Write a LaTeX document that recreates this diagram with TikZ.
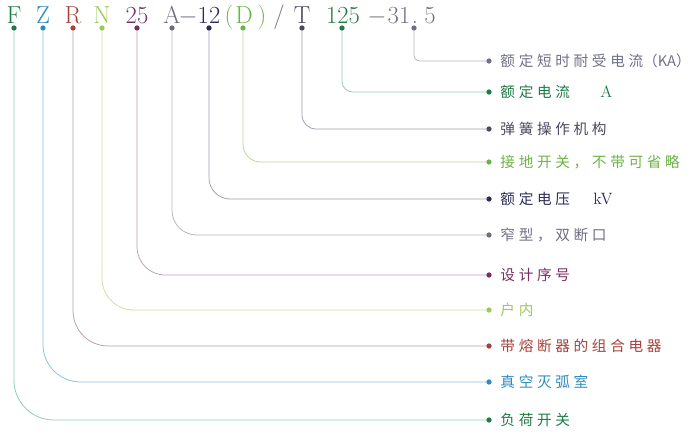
\documentclass[tikz,border=0pt]{standalone}
\usepackage{fontspec}
\newfontfamily\cjk[LetterSpace=25]{Noto Sans CJK SC}
\newfontfamily\cjktight{Noto Sans CJK SC}
\usetikzlibrary{positioning}
\definecolor{cF}{HTML}{1F7A48}
\definecolor{cZ}{HTML}{2D8BBF}
\definecolor{cR}{HTML}{A5413A}
\definecolor{cN}{HTML}{9CC95A}
\definecolor{cNum}{HTML}{7A2D62}
\definecolor{cA}{HTML}{6E6E80}
\definecolor{cKV}{HTML}{2B2A5C}
\definecolor{cD}{HTML}{6CB446}
\definecolor{cT}{HTML}{4A4A5E}
\definecolor{cKA}{HTML}{707088}
% lighter tints for the leader lines
\definecolor{lF}{HTML}{8FCBB4}
\definecolor{lZ}{HTML}{8CC0DA}
\definecolor{lR}{HTML}{BF9CA6}
\definecolor{lN}{HTML}{CCE09C}
\definecolor{lNum}{HTML}{C09CBC}
\definecolor{lA}{HTML}{B4B4C2}
\definecolor{lKV}{HTML}{9C9CB8}
\definecolor{lD}{HTML}{B4D69A}
\definecolor{lT}{HTML}{9C9CAE}
\tikzset{
	code/.style   ={anchor=base, inner sep=0pt, font=\fontsize{21}{21}\selectfont},
	tick/.style   ={circle, inner sep=0pt, minimum size=4.5pt},
	lead/.style   ={line width=0.65pt},
	meaning/.style={anchor=west, inner sep=0pt, font=\cjk\fontsize{12.5}{14}\selectfont},
}
\begin{document}
\begin{tikzpicture}[x=0.03cm, y=-0.03cm]
	\useasboundingbox (0,0) rectangle (700,444);
	% the type code
	\node[code, text=cF]   (tF)     at (14,23)  {F};
	\node[code, text=cZ]   (tZ)     at (43,23)  {Z};
	\node[code, text=cR]   (tR)     at (73,23)  {R};
	\node[code, text=cN]   (tN)     at (102,23) {N};
	\node[code, text=cNum] (t25)    at (137,23) {25};
	\node[code, text=cA]   (tA)     at (172,23) {A};
	\node[code, text=cA]   (tdashA) at (188,23) {$-$};
	\node[code, text=cKV]  (t12)    at (209,23) {12};
	\node[code, text=cD]   (tlp)    at (229,23) {(};
	\node[code, text=cD]   (tD)     at (244,23) {D};
	\node[code, text=cD]   (trp)    at (262,23) {)};
	\node[code, text=cA]   (tsl)    at (279,23) {/};
	\node[code, text=cT]   (tT)     at (302,23) {T};
	\node[code, text=cF]   (t125)   at (343,23) {125};
	\node[code, text=cA]   (tdashB) at (377,23) {$-$};
	\node[code, text=cKA]  (t31)    at (399,23) {31};
	\node[code, text=cKA]  (tpt)    at (415,23) {.};
	\node[code, text=cKA]  (t5)     at (430,23) {5};
	% dots under the code
	\node[tick, fill=cF]   (dF)   at (14,28)  {};
	\node[tick, fill=cZ]   (dZ)   at (43,28)  {};
	\node[tick, fill=cR]   (dR)   at (73,28)  {};
	\node[tick, fill=cN]   (dN)   at (102,28) {};
	\node[tick, fill=cNum] (d25)  at (137,28) {};
	\node[tick, fill=cA]   (dA)   at (172,28) {};
	\node[tick, fill=cKV]  (d12)  at (209,28) {};
	\node[tick, fill=cD]   (dD)   at (243,28) {};
	\node[tick, fill=cT]   (dT)   at (302,28) {};
	\node[tick, fill=cF]   (d125) at (342,28) {};
	\node[tick, fill=cKA]  (d315) at (414,28) {};
	% dots and meanings on the right
	\node[tick, fill=cKA]  (e315) at (489,61)  {};
	\node[tick, fill=cF]   (e125) at (489,92)  {};
	\node[tick, fill=cT]   (eT)   at (489,129) {};
	\node[tick, fill=cD]   (eD)   at (489,162) {};
	\node[tick, fill=cKV]  (e12)  at (489,199) {};
	\node[tick, fill=cA]   (eA)   at (489,235) {};
	\node[tick, fill=cNum] (e25)  at (489,275) {};
	\node[tick, fill=cN]   (eN)   at (489,310) {};
	\node[tick, fill=cR]   (eR)   at (489,346) {};
	\node[tick, fill=cZ]   (eZ)   at (489,382) {};
	\node[tick, fill=cF]   (eF)   at (489,420) {};
	\node[meaning, text=cKA,  right=0.25cm of e315] (m315) {额定短时耐受电流{\cjktight（KA）}};
	\node[meaning, text=cF,   right=0.25cm of e125] (m125) {额定电流\hspace{26pt}{\rmfamily\fontsize{14}{14}\selectfont A}};
	\node[meaning, text=cT,   right=0.25cm of eT]   (mT)   {弹簧操作机构};
	\node[meaning, text=cD,   right=0.25cm of eD]   (mD)   {接地开关，不带可省略};
	\node[meaning, text=cKV,  right=0.25cm of e12]  (m12)  {额定电压\hspace{20pt}{\rmfamily\fontsize{14}{14}\selectfont kV}};
	\node[meaning, text=cA,   right=0.25cm of eA]   (mA)   {窄型，双断口};
	\node[meaning, text=cNum, right=0.25cm of e25]  (m25)  {设计序号};
	\node[meaning, text=cN,   right=0.25cm of eN]   (mN)   {户内};
	\node[meaning, text=cR,   right=0.25cm of eR]   (mR)   {带熔断器的组合电器};
	\node[meaning, text=cZ,   right=0.25cm of eZ]   (mZ)   {真空灭弧室};
	\node[meaning, text=cF,   right=0.25cm of eF]   (mF)   {负荷开关};
	% leaders
	\draw[lead, draw=lA,   rounded corners=5pt]  (d315) |- (e315);
	\draw[lead, draw=lF,   rounded corners=9pt]  (d125) |- (e125);
	\draw[lead, draw=lT,   rounded corners=12pt] (dT)   |- (eT);
	\draw[lead, draw=lD,   rounded corners=15pt] (dD)   |- (eD);
	\draw[lead, draw=lKV,  rounded corners=18pt] (d12)  |- (e12);
	\draw[lead, draw=lA,   rounded corners=21pt] (dA)   |- (eA);
	\draw[lead, draw=lNum, rounded corners=24pt] (d25)  |- (e25);
	\draw[lead, draw=lN,   rounded corners=27pt] (dN)   |- (eN);
	\draw[lead, draw=lR,   rounded corners=30pt] (dR)   |- (eR);
	\draw[lead, draw=lZ,   rounded corners=32pt] (dZ)   |- (eZ);
	\draw[lead, draw=lF,   rounded corners=34pt] (dF)   |- (eF);
\end{tikzpicture}
\end{document}
